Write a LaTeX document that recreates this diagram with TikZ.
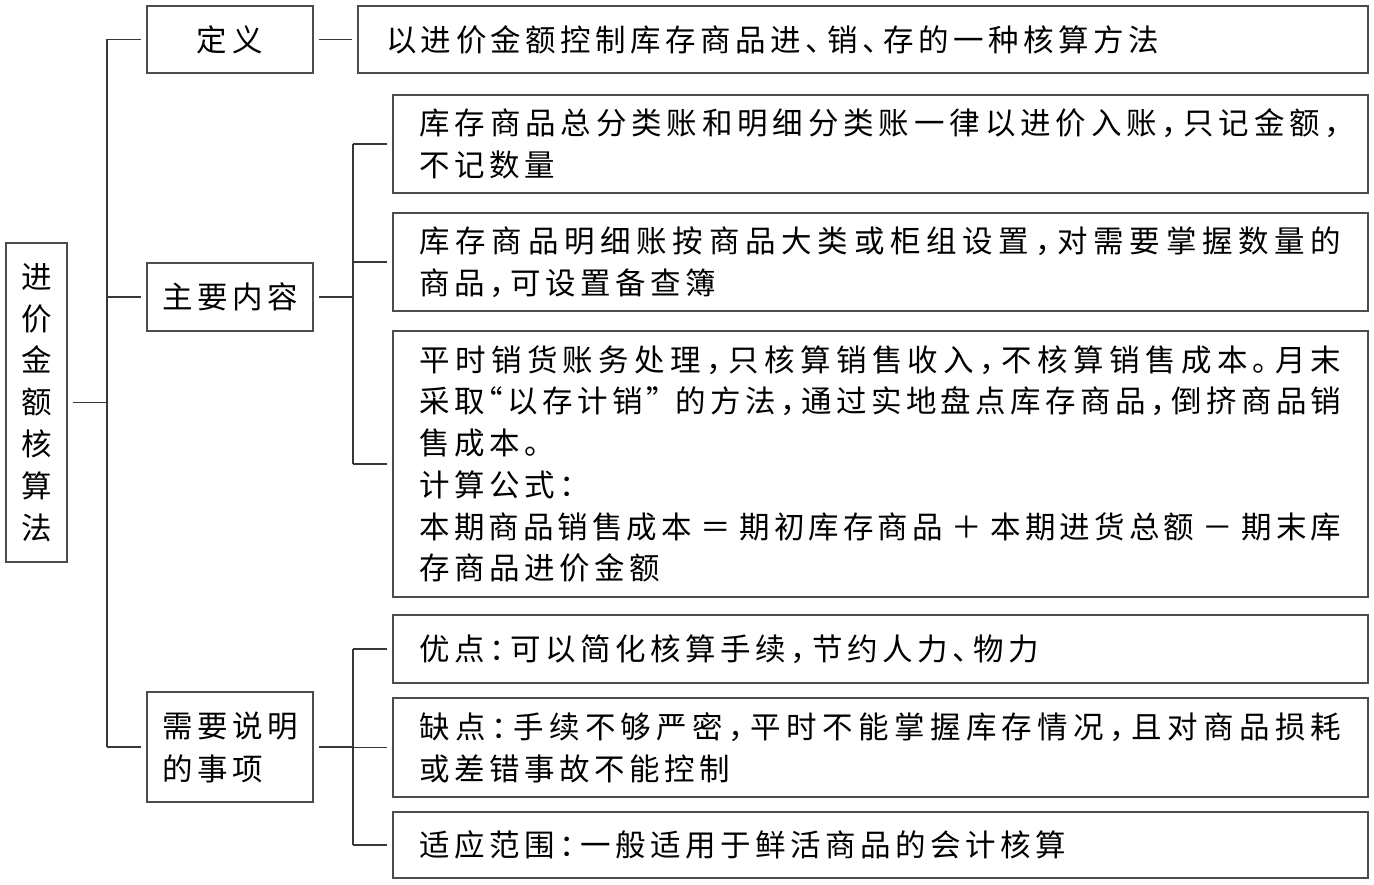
\documentclass[tikz,border=0pt]{standalone}
\usepackage{fontspec}
\newfontfamily\cjk{Noto Sans CJK SC}
\def\spreadgap{\hskip 4.5pt\relax}
\def\spA#1{#1\spB}
\def\spB#1{\ifx#1\relax\else\spreadgap#1\expandafter\spB\fi}
\newcommand\jnat[1]{\leavevmode\hbox{\spA#1\relax}}
\newcommand\jfull[1]{\leavevmode\hbox to 922pt{\def\spreadgap{\hskip 2pt plus 1fil\relax}\spA#1\relax}}
\newcommand\cm{\makebox[0.55em][l]{，}}
\newcommand\pd{\makebox[0.55em][l]{。}}
\newcommand\dn{\makebox[0.55em][l]{、}}
\newcommand\col{\makebox[0.55em][l]{：}}
\newcommand\oq{\makebox[0.45em][r]{“}}
\newcommand\cq{\makebox[0.8em][l]{”}}
\newcommand\eqop{\makebox[1.3em]{＝}}
\newcommand\plop{\makebox[1.3em]{＋}}
\newcommand\miop{\makebox[1.3em]{－}}
\begin{document}
\begin{tikzpicture}[x=1pt,y=1pt,
  box/.style={draw=black!70, line width=1.7pt, fill=white, inner sep=0pt,
    font={\cjk\fontsize{30.5}{42.5}\selectfont\parindent=0pt}},
  cbox/.style={box, text width=922pt, inner xsep=26.5pt, align=left, minimum width=975pt},
  lbox/.style={box, minimum width=166pt, align=left},
  conn/.style={draw=black!78, line width=1.4pt}]
\useasboundingbox (0,0) rectangle (1374,-885);
\fill[white] (0,0) rectangle (1374,-885);

% root
\node[box, minimum width=61pt, minimum height=319pt, align=center,
  font={\cjk\fontsize{30.5}{41.8}\selectfont}] (root) at (36.5,-402.5)
  {进\\价\\金\\额\\核\\算\\法};

% level 1
\node[lbox, minimum height=67pt] (def) at (230,-39.5)
  {{\def\spreadgap{\hskip 5.5pt\relax}\jnat{定义}}};
\node[lbox, minimum height=68pt] (main) at (230,-297) {\jnat{主要内容}};
\node[lbox, minimum height=110pt, font={\cjk\fontsize{30.5}{43}\selectfont}] (note) at (230,-747)
  {\jnat{需要说明}\\\jnat{的事项}};

% definition
\node[box, text width=954pt, inner xsep=28pt, align=left, minimum height=67pt] (defn) at (863,-39.5)
  {\jnat{以进价金额控制库存商品进\dn 销\dn 存的一种核算方法}};

% main contents
\node[cbox, minimum height=98pt] (c1) at (880.5,-144)
  {\jfull{库存商品总分类账和明细分类账一律以进价入账\cm 只记金额\cm}\\\jnat{不记数量}};
\node[cbox, minimum height=98pt] (c2) at (880.5,-262)
  {\jfull{库存商品明细账按商品大类或柜组设置\cm 对需要掌握数量的}\\\jnat{商品\cm 可设置备查簿}};
\node[cbox, minimum height=266pt, font={\cjk\fontsize{30.5}{41.7}\selectfont\parindent=0pt}] (c3) at (880.5,-464)
  {\jfull{平时销货账务处理\cm 只核算销售收入\cm 不核算销售成本\pd 月末}\\
   \jfull{采取\oq 以存计销\cq 的方法\cm 通过实地盘点库存商品\cm 倒挤商品销}\\
   \jnat{售成本\pd}\\
   \jnat{计算公式\col}\\
   \jfull{本期商品销售成本\eqop 期初库存商品\plop 本期进货总额\miop 期末库}\\
   \jnat{存商品进价金额}};

% notes
\node[cbox, minimum height=68pt] (n1) at (880.5,-649)
  {\jnat{优点\col 可以简化核算手续\cm 节约人力\dn 物力}};
\node[cbox, minimum height=99pt, font={\cjk\fontsize{30.5}{41.7}\selectfont\parindent=0pt}] (n2) at (880.5,-747.5)
  {\jfull{缺点\col 手续不够严密\cm 平时不能掌握库存情况\cm 且对商品损耗}\\\jnat{或差错事故不能控制}};
\node[cbox, minimum height=66pt] (n3) at (880.5,-845)
  {\jnat{适应范围\col 一般适用于鲜活商品的会计核算}};

% connectors: root
\coordinate (tr) at (107,-402.5);
\draw[conn, shorten <=5pt] (root) -- (tr);
\draw[conn] (def.west -| tr) -- (note.west -| tr);
\draw[conn, shorten >=5pt] (def.west -| tr) -- (def.west);
\draw[conn, shorten >=5pt] (main.west -| tr) -- (main.west);
\draw[conn, shorten >=5pt] (note.west -| tr) -- (note.west);

% def -> definition
\draw[conn, shorten <=5pt, shorten >=5pt] (def) -- (defn);

% main -> contents
\coordinate (mt) at (353,-297);
\draw[conn, shorten <=5pt] (main) -- (mt);
\draw[conn] (c1.west -| mt) -- (c3.west -| mt);
\draw[conn, shorten >=5pt] (c1.west -| mt) -- (c1.west);
\draw[conn, shorten >=5pt] (c2.west -| mt) -- (c2.west);
\draw[conn, shorten >=5pt] (c3.west -| mt) -- (c3.west);

% note -> items
\coordinate (nt) at (353,-747);
\draw[conn, shorten <=5pt] (note) -- (nt);
\draw[conn] (n1.west -| nt) -- (n3.west -| nt);
\draw[conn, shorten >=5pt] (n1.west -| nt) -- (n1.west);
\draw[conn, shorten >=5pt] (n2.west -| nt) -- (n2.west);
\draw[conn, shorten >=5pt] (n3.west -| nt) -- (n3.west);
\end{tikzpicture}
\end{document}
